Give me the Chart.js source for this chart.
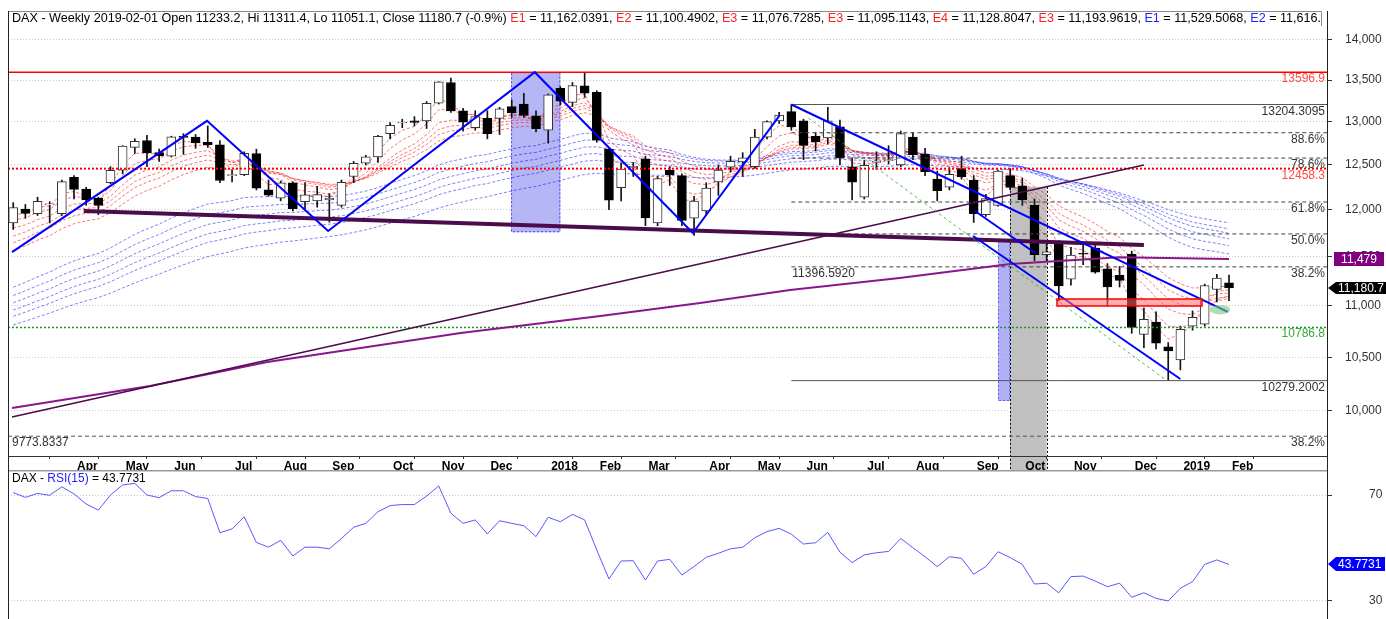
<!DOCTYPE html>
<html>
<head>
<meta charset="utf-8">
<title>DAX weekly</title>
<script src="https://cdn.jsdelivr.net/npm/chart.js@4.4.0/dist/chart.umd.min.js"></script>
<style>
  html, body { margin: 0; padding: 0; background: #fff; }
  #wrap { position: relative; width: 1386px; height: 619px; overflow: hidden; }
  canvas { position: absolute; left: 0; }
  #main { top: 0; }
  #rsi { top: 470px; }
</style>
</head>
<body>
<div id="wrap">
  <canvas id="main" width="1386" height="470"></canvas>
  <canvas id="rsi" width="1386" height="149"></canvas>
</div>
<script>
// weekly bars, week 0 = 2017-03-03 ... week 100 = 2019-02-01
const opens = [
  11860, 12010, 11960, 12055, 11960, 12360, 12230, 12130, 12300, 12440,
  12700, 12780, 12640, 12600, 12820, 12820, 12760, 12730, 12380, 12390,
  12630, 12220, 12130, 12300, 12090, 12100, 12110, 12050, 12370, 12520,
  12590, 12860, 12985, 13010, 13010, 13220, 13470, 13130, 12930, 13040,
  13040, 13180, 13210, 13070, 12900, 13400, 13230, 13430, 13350, 12680,
  12245, 12470, 12570, 11860, 12440, 12380, 11910, 11990, 12308, 12476,
  12535, 12480, 12820, 13010, 13120, 13010, 12830, 12810, 12940, 12480,
  12140, 12530, 12550, 12500, 12820, 12620, 12340, 12250, 12460, 12330,
  11950, 12050, 12380, 12265, 12050, 11524, 11645, 11270, 11530, 11590,
  11375, 11310, 11530, 10720, 10840, 10600, 10474, 10800, 10820, 11165,
  11233.2
]
const highs = [
  12080, 12060, 12140, 12090, 12330, 12380, 12250, 12140, 12480, 12720,
  12800, 12840, 12680, 12830, 12860, 12850, 12950, 12780, 12440, 12650,
  12680, 12330, 12320, 12310, 12300, 12260, 12180, 12330, 12540, 12610,
  12840, 12990, 13030, 13060, 13240, 13480, 13526, 13160, 13130, 13130,
  13170, 13260, 13340, 13130, 13330, 13420, 13470, 13597, 13370, 12690,
  12520, 12530, 12600, 12370, 12480, 12400, 12150, 12300, 12500, 12600,
  12640, 12910, 13010, 13110, 13204, 13030, 12870, 13170, 13020, 12580,
  12550, 12650, 12720, 12890, 12870, 12690, 12430, 12470, 12600, 12380,
  12170, 12440, 12460, 12350, 12120, 11640, 11670, 11600, 11620, 11620,
  11430, 11400, 11560, 10980, 10940, 10640, 10800, 10950, 11220, 11320,
  11311.4
]
const lows = [
  11790, 11910, 11940, 11860, 11940, 12120, 12050, 11950, 12290, 12400,
  12630, 12480, 12540, 12590, 12620, 12690, 12700, 12300, 12310, 12380,
  12220, 12150, 12100, 11990, 12000, 12030, 11868, 12030, 12300, 12500,
  12530, 12800, 12930, 12950, 12920, 13210, 13110, 12890, 12900, 12800,
  12850, 13050, 13050, 12880, 12750, 13200, 13180, 13290, 12760, 12003,
  12100, 12370, 11830, 11830, 12270, 11830, 11727, 11940, 12160, 12420,
  12370, 12460, 12800, 12980, 12900, 12560, 12660, 12740, 12500, 12110,
  12120, 12450, 12510, 12480, 12560, 12380, 12100, 12220, 12340, 11865,
  11930, 12040, 12220, 12050, 11460, 11450, 11051, 11210, 11420, 11330,
  11000, 11190, 10730, 10590, 10580, 10279, 10380, 10760, 10800, 11040,
  11051.1
]
const closes = [
  12027, 11963, 12095, 12064, 12313, 12225, 12109, 12049, 12438, 12717,
  12770, 12638, 12602, 12823, 12816, 12753, 12733, 12325, 12389, 12631,
  12240, 12163, 12298, 12014, 12165, 12168, 12130, 12304, 12519, 12592,
  12829, 12956, 12992, 12991, 13218, 13479, 13127, 12994, 13060, 12861,
  13154, 13104, 13073, 12918, 13320, 13245, 13434, 13340, 12785, 12107,
  12452, 12483, 11913, 12346, 12390, 11886, 12097, 12241, 12442, 12540,
  12580, 12820, 13001, 13078, 12938, 12724, 12767, 13011, 12580, 12306,
  12496, 12541, 12561, 12860, 12616, 12424, 12211, 12394, 12364, 11960,
  12124, 12431, 12247, 12111, 11524, 11554, 11201, 11519, 11529, 11341,
  11192, 11257, 10788, 10866, 10634, 10559, 10768, 10887, 11205, 11282,
  11180.7
]
const rsi15 = [
  70.9, 69.1, 70.6, 69.9, 73.1, 70.4, 66.6, 64.3, 70.0, 73.8,
  74.4, 70.0, 69.0, 71.6, 71.6, 69.4, 68.7, 55.8, 57.2, 61.8,
  52.1, 50.3, 52.9, 47.0, 50.3, 50.3, 49.7, 53.6, 57.8, 59.3,
  63.7, 66.0, 66.4, 66.4, 69.6, 73.4, 63.1, 59.3, 60.6, 55.3,
  60.3, 59.3, 58.4, 54.3, 61.6, 59.9, 62.7, 60.6, 49.2, 38.3,
  45.1, 45.2, 37.9, 45.1, 45.7, 39.8, 43.0, 46.5, 48.0, 49.7,
  50.3, 53.9, 56.2, 57.4, 55.2, 51.5, 52.0, 55.9, 48.4, 44.5,
  47.4, 48.2, 48.7, 53.6, 50.1, 46.7, 43.0, 46.7, 46.1, 40.1,
  43.0, 48.6, 46.4, 43.8, 36.4, 36.7, 33.1, 39.2, 39.4, 37.5,
  35.4, 36.7, 31.4, 33.1, 31.0, 30.0, 34.8, 37.3, 43.8, 45.5,
  43.7731
]

const monthTickIdx = [5, 9, 13, 18, 22, 26, 31, 35, 39, 44, 48, 52, 57, 61, 65, 70, 74, 79, 83, 87, 92, 96, 100]
const monthTickLabels = ["Apr", "May", "Jun", "Jul", "Aug", "Sep", "Oct", "Nov", "Dec", "2018", "Feb", "Mar",
  "Apr", "May", "Jun", "Jul", "Aug", "Sep", "Oct", "Nov", "Dec", "2019", "Feb"]
const priceTicks = [10000, 10500, 11000, 11500, 12000, 12500, 13000, 13500, 14000]
const rsiTicks = [30, 70]

// guppy ribbons (periods, value of each average just before week 0)
const shortPeriods = [3, 5, 8, 10, 12, 15]
const shortSeeds = [11880, 11820, 11740, 11650, 11580, 11500]
const longPeriods = [30, 35, 40, 45, 50, 60]
const longSeeds = [11130, 11050, 10980, 10910, 10850, 10770]

// long average (purple)
const slowIdx = [-0.1, 11.25, 20.9, 36.8, 48.3, 56.5, 63.9, 72.9, 82, 91, 100]
const slowVals = [10027, 10229, 10454, 10733, 10900, 11030, 11160, 11282, 11426, 11495, 11479]

// drawn lines as [week, price]
const zigzag = [[-0.1, 11550], [15.94, 13010], [25.9, 11773], [42.9, 13596.9], [55.9, 11752], [63.07, 13080]]
const channelTop = [[64, 13204.3], [99.9, 10940]]
const channelLow = [[78.95, 11720], [96, 10294]]
const channelStub = [[79.1, 11989], [84.05, 11541]]
const greenRay = [[65.4, 13044], [94.7, 10294]]
const neckline = [[5.8, 11989], [93, 11625]]
const riser = [[-0.1, 9946], [93, 12500]]

// levels
const athLevel = 13596.9
const redLevel = 12458.3
const greenLevel = 10786.8
const swingHigh = 13204.3095
const swingLow = 10279.2002
const fibVals = [12870.8, 12578.3, 12086.9, 11741.75, 11396.592]
const fibNames = ["88.6%", "78.6%", "61.8%", "50.0%", "38.2%"]
const extLevel = 9773.8337
const lastSlow = 11479
const lastClose = 11180.7
const lastRsi = 43.7731

// zones [fromWeek, toWeek, topPrice, bottomPrice]
const zoneJan = [40.95, 45.0, 13596.9, 11760]
const zoneSep = [81.0, 82.0, 11680, 10091]
const zoneOct = [82.0, 85.0, 12254, 9600]
const zoneGap = [85.85, 97.78, 11069, 10999]
const zoneTri = [98.4, 100.1, 11010, 10915]

const X_MIN = -0.43
const X_MAX = 108.06
const FONT = '"Liberation Sans", Arial, sans-serif'

Chart.defaults.font.family = FONT
Chart.defaults.font.size = 12

const ema = (period, seed) => {
  const k = 2 / (period + 1)
  let e = seed
  return closes.map((c, i) => {
    e = e + k * (c - e)
    return { x: i, y: e }
  })
}
const pts = (pairs) => pairs.map(([i, p]) => ({ x: i, y: p }))
const flat = (p, from = X_MIN, to = X_MAX) => [{ x: from, y: p }, { x: to, y: p }]
const line = (data, color, width, dash, order) => ({
  type: "line", data, borderColor: color, borderWidth: width, borderDash: dash || [],
  pointRadius: 0, fill: false, tension: 0, order,
})

const datasets = []
shortPeriods.forEach((p, k) => datasets.push(line(ema(p, shortSeeds[k]), "rgba(255,0,0,0.55)", 1, [3, 2], 50)))
longPeriods.forEach((p, k) => datasets.push(line(ema(p, longSeeds[k]), "rgba(0,0,255,0.5)", 1, [3, 2], 51)))

datasets.push({
  type: "bar", data: closes.map((c, i) => ({ x: i, y: [lows[i], highs[i]] })),
  backgroundColor: "#111", barThickness: 1, grouped: false, order: 30,
})
const upBars = []
const downBars = []
closes.forEach((c, i) => {
  const b = { x: i, y: [opens[i], c] }
  if (c >= opens[i]) upBars.push(b)
  else downBars.push(b)
})
datasets.push({
  type: "bar", data: upBars, backgroundColor: "#fff", borderColor: "#333", borderWidth: 1,
  borderSkipped: false, barThickness: 9, grouped: false, minBarLength: 1, order: 20,
})
datasets.push({
  type: "bar", data: downBars, backgroundColor: "#000", borderColor: "#000", borderWidth: 1,
  borderSkipped: false, barThickness: 9, grouped: false, minBarLength: 1, order: 20,
})

datasets.push(line(flat(athLevel), "#ff0000", 1.5, [], 8))
datasets.push(line(flat(redLevel), "#ff0000", 2, [2, 2], 8))
datasets.push(line(flat(greenLevel), "#1a9a1a", 1.5, [2, 2], 8))
datasets.push(line(flat(swingHigh, 64), "#555", 1, [], 8))
datasets.push(line(flat(swingLow, 64), "#555", 1, [], 8))
fibVals.forEach((v) => datasets.push(line(flat(v, 64), "#444", 1, [4, 3], 8)))
datasets.push(line(flat(extLevel), "#555", 1, [4, 3], 8))

datasets.push(line(slowIdx.map((v, i) => ({ x: v, y: slowVals[i] })), "#8b168b", 2, [], 6))
datasets.push(line(pts(riser), "#4a0c4a", 1.5, [], 5))
datasets.push(line(pts(neckline), "#4a0c4a", 4, [], 4))
datasets.push(line(pts(greenRay), "rgba(40,170,40,0.8)", 1, [3, 3], 3))
datasets.push(line(pts(zigzag), "#0000ff", 2, [], 2))
datasets.push(line(pts(channelTop), "#0000ff", 2, [], 2))
datasets.push(line(pts(channelLow), "#0000ff", 2, [], 2))
datasets.push(line(pts(channelStub), "#0000ff", 2, [], 2))

const fixTicks = (values) => (scale) => {
  scale.ticks = values.map((v) => ({ value: v }))
}
const fitY = (scale) => {
  scale.width = 59
  scale.paddingTop = 0
  scale.paddingBottom = 0
}
const fitX = (scale) => {
  scale.height = 14
  scale.paddingLeft = 0
  scale.paddingRight = 0
}

const box = (ctx, x1, y1, x2, y2, fill, stroke, dash) => {
  ctx.fillStyle = fill
  ctx.fillRect(x1, y1, x2 - x1, y2 - y1)
  if (stroke) {
    ctx.strokeStyle = stroke
    ctx.lineWidth = 1
    ctx.setLineDash(dash || [])
    ctx.strokeRect(x1 + 0.5, y1 + 0.5, x2 - x1 - 1, y2 - y1 - 1)
    ctx.setLineDash([])
  }
}

const zonesPlugin = {
  id: "zones",
  // shaded zones go under the grid, the axis labels and the bars
  beforeDraw(chart) {
    const { ctx, chartArea: a, scales } = chart
    const X = (v) => scales.x.getPixelForValue(v)
    const Y = (v) => scales.y.getPixelForValue(v)
    ctx.save()
    box(ctx, X(zoneJan[0]), Y(zoneJan[2]), X(zoneJan[1]), Y(zoneJan[3]), "#b6b6f7", "#4040ff", [2, 2])
    box(ctx, X(zoneSep[0]), Y(zoneSep[2]), X(zoneSep[1]), Y(zoneSep[3]), "#b0b0f6", "#6060ff", [2, 2])
    const gx1 = X(zoneOct[0])
    const gx2 = X(zoneOct[1])
    const gy = Y(zoneOct[2])
    ctx.fillStyle = "#c0c0c0"
    ctx.fillRect(gx1, gy, gx2 - gx1, a.bottom + 14 - gy)
    ctx.strokeStyle = "#000"
    ctx.setLineDash([2, 2])
    ctx.beginPath()
    ctx.moveTo(Math.round(gx1) + 0.5, gy)
    ctx.lineTo(Math.round(gx1) + 0.5, a.bottom + 14)
    ctx.moveTo(Math.round(gx2) + 0.5, gy)
    ctx.lineTo(Math.round(gx2) + 0.5, a.bottom + 14)
    ctx.stroke()
    ctx.setLineDash([])
    ctx.restore()
  },
  afterDatasetsDraw(chart) {
    const { ctx, chartArea: a, scales } = chart
    const X = (v) => scales.x.getPixelForValue(v)
    const Y = (v) => scales.y.getPixelForValue(v)
    ctx.save()
    // gap box and small triangle
    const rx1 = X(zoneGap[0])
    const rx2 = X(zoneGap[1])
    const ry1 = Y(zoneGap[2])
    const ry2 = Y(zoneGap[3])
    ctx.fillStyle = "rgba(255,110,110,0.55)"
    ctx.fillRect(rx1, ry1, rx2 - rx1, ry2 - ry1)
    ctx.strokeStyle = "#ff0000"
    ctx.lineWidth = 1.5
    ctx.strokeRect(rx1, ry1, rx2 - rx1, ry2 - ry1)
    const tx1 = X(zoneTri[0])
    const tx2 = X(zoneTri[1])
    const ty1 = Y(zoneTri[2])
    const ty2 = Y(zoneTri[3])
    ctx.fillStyle = "rgba(120,200,120,0.6)"
    ctx.beginPath()
    ctx.ellipse((tx1 + tx2) / 2, (ty1 + ty2) / 2, (tx2 - tx1) / 2, (ty2 - ty1) / 2, 0, 0, Math.PI * 2)
    ctx.fill()

    // level labels
    ctx.font = "12px " + FONT
    ctx.textBaseline = "middle"
    const right = a.right - 2
    const lab = (text, price, color, x, align) => {
      ctx.fillStyle = color
      ctx.textAlign = align || "right"
      ctx.fillText(text, x === undefined ? right : x, Math.round(Y(price)) + 6.5)
    }
    lab("13596.9", athLevel, "#ff4a4a")
    lab("13204.3095", swingHigh, "#333")
    fibNames.forEach((n, k) => lab(n, fibVals[k], "#333"))
    lab("12458.3", redLevel, "#ff4a4a")
    lab("10786.8", greenLevel, "#38a838")
    lab("10279.2002", swingLow, "#333")
    lab("38.2%", extLevel, "#333")
    lab("9773.8337", extLevel, "#333", a.left + 4, "left")
    lab("11396.5920", fibVals[4], "#333", X(64) + 1, "left")

    // title strip
    ctx.fillStyle = "#fff"
    ctx.fillRect(a.left, a.top, 1321 - a.left, 15)
    ctx.strokeStyle = "#888"
    ctx.lineWidth = 1
    ctx.beginPath()
    ctx.moveTo(a.left, a.top + 0.5)
    ctx.lineTo(1321.5, a.top + 0.5)
    ctx.lineTo(1321.5, a.top + 15)
    ctx.stroke()
    ctx.save()
    ctx.beginPath()
    ctx.rect(a.left, a.top, 1321 - a.left, 15)
    ctx.clip()
    ctx.font = "12.6px " + FONT
    const parts = [
      ["DAX - Weekly 2019-02-01 Open 11233.2, Hi 11311.4, Lo 11051.1, Close 11180.7 (-0.9%) ", "#000"],
      ["E1", "#ff2020"], [" = 11,162.0391, ", "#000"],
      ["E2", "#ff2020"], [" = 11,100.4902, ", "#000"],
      ["E3", "#ff2020"], [" = 11,076.7285, ", "#000"],
      ["E3", "#ff2020"], [" = 11,095.1143, ", "#000"],
      ["E4", "#ff2020"], [" = 11,128.8047, ", "#000"],
      ["E3", "#ff2020"], [" = 11,193.9619, ", "#000"],
      ["E1", "#2020ff"], [" = 11,529.5068, ", "#000"],
      ["E2", "#2020ff"], [" = 11,616.", "#000"],
    ]
    let tx = a.left + 4
    ctx.textAlign = "left"
    for (const [s, c] of parts) {
      ctx.fillStyle = c
      ctx.fillText(s, tx, a.top + 8)
      tx += ctx.measureText(s).width
    }
    ctx.restore()
    ctx.font = "12px " + FONT

    // frame
    ctx.strokeStyle = "#222"
    ctx.lineWidth = 1
    ctx.beginPath()
    ctx.moveTo(a.left + 0.5, a.top)
    ctx.lineTo(a.left + 0.5, chart.height)
    ctx.moveTo(a.right + 0.5, a.top)
    ctx.lineTo(a.right + 0.5, chart.height)
    ctx.stroke()

    // right-hand value flags
    const py = Math.round(Y(lastSlow))
    ctx.fillStyle = "#800080"
    ctx.fillRect(a.right + 7, py - 7, 50, 14)
    ctx.fillStyle = "#fff"
    ctx.textAlign = "center"
    ctx.fillText("11,479", a.right + 32, py + 0.5)

    const cy = Math.round(Y(lastClose))
    ctx.fillStyle = "#000"
    ctx.beginPath()
    ctx.moveTo(a.right + 1, cy)
    ctx.lineTo(a.right + 9, cy - 6)
    ctx.lineTo(1386, cy - 6)
    ctx.lineTo(1386, cy + 6)
    ctx.lineTo(a.right + 9, cy + 6)
    ctx.closePath()
    ctx.fill()
    ctx.fillStyle = "#fff"
    ctx.textAlign = "left"
    ctx.fillText("11,180.7", a.right + 11, cy + 0.5)
    ctx.restore()
  },
}

new Chart(document.getElementById("main"), {
  type: "line",
  data: { datasets },
  options: {
    responsive: false,
    animation: false,
    devicePixelRatio: 1,
    events: [],
    layout: { padding: { left: 8, top: 11, right: 0, bottom: 0 } },
    plugins: { legend: { display: false }, tooltip: { enabled: false } },
    scales: {
      x: {
        type: "linear",
        min: X_MIN,
        max: X_MAX,
        offset: false,
        afterBuildTicks: fixTicks(monthTickIdx),
        afterFit: fitX,
        grid: { drawOnChartArea: false, drawTicks: true, tickLength: 3, tickColor: "#333" },
        border: { display: true, color: "#333" },
        ticks: {
          autoSkip: false,
          maxRotation: 0,
          align: "start",
          labelOffset: 3,
          padding: 0,
          color: "#000",
          font: { size: 12, weight: "bold" },
          callback: (v) => monthTickLabels[monthTickIdx.indexOf(v)] || "",
        },
      },
      y: {
        type: "logarithmic",
        position: "right",
        min: 9600,
        max: 14373,
        afterBuildTicks: fixTicks(priceTicks),
        afterFit: fitY,
        grid: { color: "#c8c8c8", tickLength: 5, tickColor: "#333", tickBorderDash: [] },
        border: { display: true, color: "#333", dash: [1, 2] },
        ticks: {
          padding: 13,
          color: "#333",
          font: { size: 12 },
          callback: (v) => Number(v).toLocaleString("en-US"),
        },
      },
    },
  },
  plugins: [zonesPlugin],
})

const rsiPlugin = {
  id: "rsiText",
  afterDatasetsDraw(chart) {
    const { ctx, chartArea: a, scales } = chart
    ctx.save()
    ctx.strokeStyle = "#999"
    ctx.lineWidth = 2
    ctx.beginPath()
    ctx.moveTo(a.left, 0.5)
    ctx.lineTo(a.right, 0.5)
    ctx.stroke()
    ctx.strokeStyle = "#222"
    ctx.lineWidth = 1
    ctx.beginPath()
    ctx.moveTo(a.left + 0.5, 0)
    ctx.lineTo(a.left + 0.5, chart.height)
    ctx.moveTo(a.right + 0.5, 0)
    ctx.lineTo(a.right + 0.5, chart.height)
    ctx.stroke()

    ctx.font = "12px " + FONT
    ctx.textBaseline = "middle"
    ctx.textAlign = "left"
    let tx = a.left + 4
    for (const [s, c] of [["DAX - ", "#000"], ["RSI(15)", "#2020ff"], [" = 43.7731", "#000"]]) {
      ctx.fillStyle = c
      ctx.fillText(s, tx, 8.5)
      tx += ctx.measureText(s).width
    }

    const ry = Math.round(scales.y.getPixelForValue(lastRsi))
    ctx.fillStyle = "#0000ff"
    ctx.beginPath()
    ctx.moveTo(a.right + 1, ry)
    ctx.lineTo(a.right + 9, ry - 7)
    ctx.lineTo(1385, ry - 7)
    ctx.lineTo(1385, ry + 7)
    ctx.lineTo(a.right + 9, ry + 7)
    ctx.closePath()
    ctx.fill()
    ctx.fillStyle = "#fff"
    ctx.fillText("43.7731", a.right + 11, ry + 0.5)
    ctx.restore()
  },
}

new Chart(document.getElementById("rsi"), {
  type: "line",
  data: {
    datasets: [{
      data: rsi15.map((v, i) => ({ x: i, y: v })),
      borderColor: "rgba(60,60,255,0.85)",
      borderWidth: 1,
      pointRadius: 0,
      fill: false,
      tension: 0,
    }],
  },
  options: {
    responsive: false,
    animation: false,
    devicePixelRatio: 1,
    events: [],
    layout: { padding: { left: 8, top: 1, right: 0, bottom: 0 } },
    plugins: { legend: { display: false }, tooltip: { enabled: false } },
    scales: {
      x: { type: "linear", min: X_MIN, max: X_MAX, display: false },
      y: {
        position: "right",
        min: 23.2,
        max: 79.06,
        afterBuildTicks: fixTicks(rsiTicks),
        afterFit: fitY,
        grid: { color: "#c8c8c8", tickLength: 5, tickColor: "#333", tickBorderDash: [] },
        border: { display: true, color: "#333", dash: [1, 2] },
        ticks: { padding: 37, color: "#333", font: { size: 12 } },
      },
    },
  },
  plugins: [rsiPlugin],
})
</script>
</body>
</html>
